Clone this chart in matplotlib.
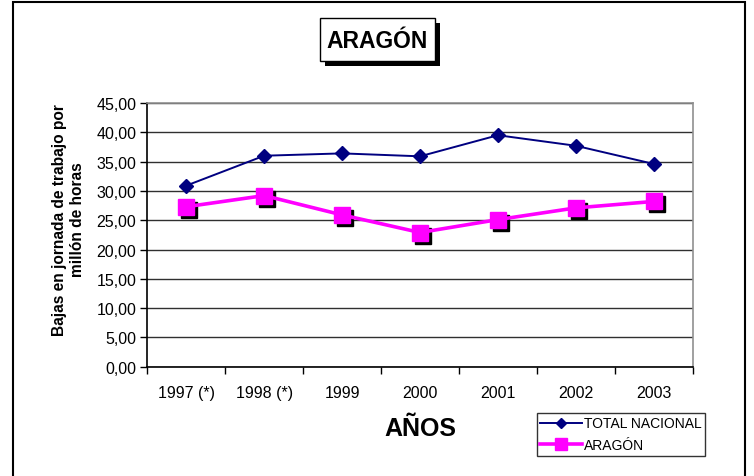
"""Bajas en jornada de trabajo por millón de horas: Aragón vs total nacional."""

import matplotlib

matplotlib.use("Agg")
import matplotlib.pyplot as plt
import matplotlib.transforms as mtransforms
from matplotlib.patches import Rectangle

plt.rcParams["font.family"] = ["Liberation Sans", "DejaVu Sans"]

years = ["1997 (*)", "1998 (*)", "1999", "2000", "2001", "2002", "2003"]
total_nacional = [30.9, 36.0, 36.4, 35.9, 39.5, 37.7, 34.6]
aragon = [27.3, 29.2, 25.9, 22.9, 25.1, 27.1, 28.2]
y_ticks = [0, 5, 10, 15, 20, 25, 30, 35, 40, 45]

NAVY = "#000080"
MAGENTA = "#ff00ff"
W, H = 754, 477

fig = plt.figure(figsize=(W / 100, H / 100), dpi=100)
ax = fig.add_axes([0.1954, 0.2291, 0.7233, 0.5529])

x = list(range(len(years)))

# black drop shadow behind the Aragón squares
shadow = mtransforms.offset_copy(ax.transData, fig=fig, x=3, y=-3, units="dots")
ax.plot(x, aragon, linestyle="none", marker="s", markersize=11,
        color="black", transform=shadow, zorder=3)
ax.plot(x, aragon, color=MAGENTA, linewidth=2.6, marker="s", markersize=11,
        markeredgecolor=MAGENTA, label="ARAGÓN", zorder=4)
ax.plot(x, total_nacional, color=NAVY, linewidth=1.4, marker="D", markersize=7,
        label="TOTAL NACIONAL", zorder=5)

ax.set_xlim(-0.5, len(years) - 0.5)
ax.set_ylim(0, 45)
ax.set_yticks(y_ticks)
ax.set_yticklabels([f"{v:.2f}".replace(".", ",") for v in y_ticks], fontsize=11.5)
ax.set_xticks(x)
ax.set_xticklabels(years, fontsize=11.5)
ax.set_xticks([i - 0.5 for i in range(len(years) + 1)], minor=True)
ax.tick_params(axis="x", which="major", length=0, pad=13)
ax.tick_params(axis="x", which="minor", length=5, direction="out", width=1)
ax.tick_params(axis="y", length=5, direction="out", width=1, pad=3)
ax.grid(axis="y", color="#303030", linewidth=1.0)
ax.set_axisbelow(True)

for side in ("top", "right"):
    ax.spines[side].set_color("#909090")
    ax.spines[side].set_linewidth(1.2)
for side in ("left", "bottom"):
    ax.spines[side].set_color("black")
    ax.spines[side].set_linewidth(1.2)

ax.set_ylabel("Bajas en jornada de trabajo por\nmillón de horas", fontsize=11.2,
              fontweight="bold", linespacing=1.3)
ax.yaxis.set_label_coords(-0.114, 0.56)

# title box with drop shadow
fig.patches.append(Rectangle((325 / W, 1 - 67 / H), 115 / W, 43 / H,
                             transform=fig.transFigure, facecolor="black",
                             edgecolor="none", zorder=1))
fig.patches.append(Rectangle((320 / W, 1 - 62 / H), 115 / W, 43 / H,
                             transform=fig.transFigure, facecolor="white",
                             edgecolor="black", linewidth=1.0, zorder=2))
fig.text(377.5 / W, 1 - 41 / H, "ARAGÓN", fontsize=16.5, fontweight="bold",
         ha="center", va="center", zorder=5)

fig.text(420 / W, 1 - 429 / H, "AÑOS", fontsize=18, fontweight="bold",
         ha="center", va="center")

handles, labels = ax.get_legend_handles_labels()
leg = fig.legend(handles[::-1], labels[::-1], loc="upper left",
                 bbox_to_anchor=(537 / W, 1 - 414 / H), fontsize=10,
                 frameon=True, fancybox=False, edgecolor="black",
                 handlelength=3.0, handletextpad=0.15, borderpad=0.25,
                 labelspacing=0.55, borderaxespad=0, markerscale=0.75)
leg.get_frame().set_linewidth(1.0)

# outer chart frame (open at the bottom)
fig.patches.append(Rectangle((12.5 / W, -0.05), 732.5 / W, 1.05 - 2.5 / H,
                             transform=fig.transFigure, facecolor="none",
                             edgecolor="black", linewidth=1.5))

fig.savefig("out.png", dpi=100)
